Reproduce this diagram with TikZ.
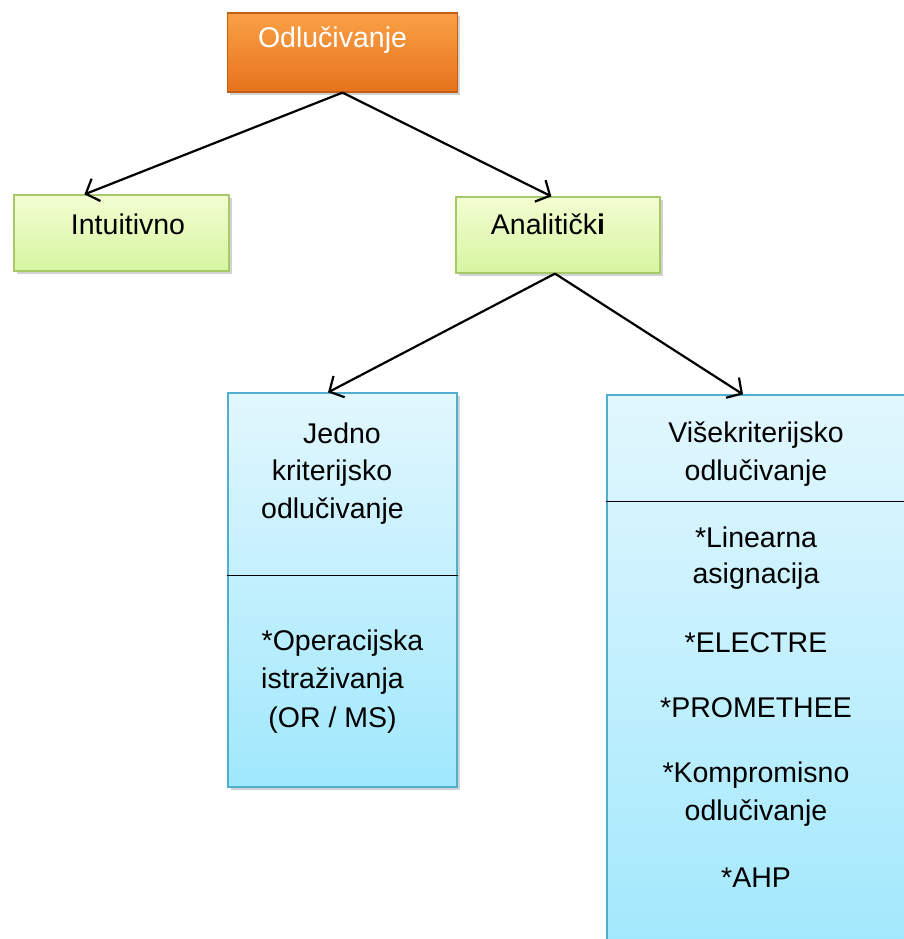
\documentclass[tikz,border=0pt]{standalone}
\usepackage{fontspec}
\setmainfont{Liberation Sans}
\usetikzlibrary{arrows.meta,shadows}
\definecolor{orTop}{RGB}{250,160,70}
\definecolor{orBot}{RGB}{230,115,28}
\definecolor{orLine}{RGB}{195,95,20}
\definecolor{grTop}{RGB}{243,253,210}
\definecolor{grBot}{RGB}{214,245,160}
\definecolor{grLine}{RGB}{166,201,106}
\definecolor{blTop}{RGB}{226,247,254}
\definecolor{blBot}{RGB}{160,232,253}
\definecolor{blLine}{RGB}{80,175,205}
\tikzset{
  boxbase/.style={rectangle, inner sep=0pt, line width=1.2pt,
    drop shadow={shadow xshift=2.5pt, shadow yshift=-3pt, opacity=0.35, fill=gray}},
  orangebox/.style={boxbase, draw=orLine, top color=orTop, bottom color=orBot},
  greenbox/.style={boxbase, draw=grLine, top color=grTop, bottom color=grBot},
  bluebox/.style={boxbase, draw=blLine, top color=blTop, bottom color=blBot},
  txt/.style={anchor=base, inner sep=0pt, font=\fontsize{28.5}{34}\selectfont},
  wtxt/.style={txt, text=white},
  arr/.style={line width=2.2pt, -{Straight Barb[length=11pt,width=24pt]}},
  divider/.style={line width=1.8pt, black}
}
\begin{document}
\begin{tikzpicture}[x=1pt,y=-1pt]
\useasboundingbox (0,0) rectangle (904,939);
\clip (0,0) rectangle (904,939);
\fill[white] (0,0) rectangle (904,939);

% boxes
\node[orangebox, minimum width=230pt, minimum height=79pt] (odl) at (342.5,52.5) {};
\node[greenbox, minimum width=215pt, minimum height=76pt] (int) at (121.5,233) {};
\node[greenbox, minimum width=204pt, minimum height=76pt] (ana) at (558,235) {};
\node[bluebox, minimum width=229pt, minimum height=394pt] (jed) at (342.5,590) {};
\node[bluebox, minimum width=300pt, minimum height=570pt] (vis) at (757,680) {};

% dividers
\draw[divider] ([yshift=-183pt]jed.north west) -- ([yshift=-183pt]jed.north east);
\draw[divider] ([yshift=-107pt]vis.north west) -- ([yshift=-107pt]vis.north east);

% texts
\node[wtxt] (t1) at (332.5,48) {Odlučivanje};
\node[txt] (t2) at (128,234) {Intuitivno};
\node[txt] (t3) at (548,234) {Analitičk\textbf{i}};

\node[txt] (j1) at (342,443) {Jedno};
\node[txt] (j2) at (332,480) {kriterijsko};
\node[txt] (j3) at (332.5,518) {odlučivanje};
\node[txt] (j4) at (342.5,650) {*Operacijska};
\node[txt] (j5) at (332.5,688) {istraživanja};
\node[txt] (j6) at (332.5,727) {(OR / MS)};

\node[txt] (v1) at (756,442) {Višekriterijsko};
\node[txt] (v2) at (756,480) {odlučivanje};
\node[txt] (v3) at (756,547) {*Linearna};
\node[txt] (v4) at (756,583) {asignacija};
\node[txt] (v5) at (756,652) {*ELECTRE};
\node[txt] (v6) at (756,717) {*PROMETHEE};
\node[txt] (v7) at (756,782) {*Kompromisno};
\node[txt] (v8) at (756,820) {odlučivanje};
\node[txt] (v9) at (756,887) {*AHP};

% connectors
\draw[arr] (odl.south) -- ([xshift=71pt]int.north west);
\draw[arr] (odl.south) -- ([xshift=96pt]ana.north west);
\draw[arr] ([xshift=-3pt]ana.south) -- ([xshift=-14.5pt]jed.north);
\draw[arr] ([xshift=-3pt]ana.south) -- ([xshift=-14pt]vis.north);
\end{tikzpicture}
\end{document}
